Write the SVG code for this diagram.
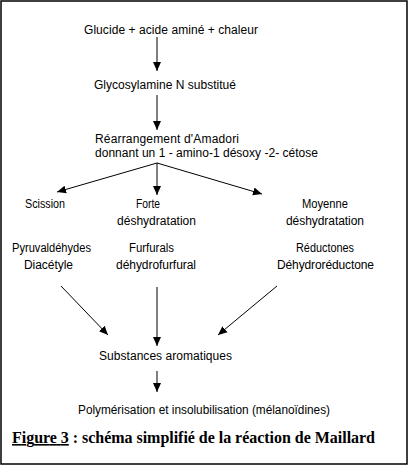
<svg xmlns="http://www.w3.org/2000/svg" width="414" height="470" viewBox="0 0 414 470">
<style>
.t{font-family:"Liberation Sans",Arial,sans-serif;font-size:12px;fill:#000}
.n{font-family:"Liberation Sans",Arial,sans-serif;font-size:12px;fill:#000}
.c{stroke:#000;stroke-width:1;fill:none;marker-end:url(#ah)}
.title{font-family:"Liberation Serif","Times New Roman",serif;font-size:16px;font-weight:bold;fill:#000}
</style>
<defs>
<marker id="ah" markerUnits="userSpaceOnUse" markerWidth="9" markerHeight="9" refX="9" refY="4.5" orient="auto">
<path d="M0,0.5 L9,4.5 L0,8.5 z" fill="#000"/>
</marker>
</defs>
<rect x="1" y="1" width="406" height="463" fill="#fff" stroke="#000" stroke-width="1.5"/>
<g id="connectors">
<line class="c" x1="157" y1="37" x2="157" y2="71"/>
<line class="c" x1="157" y1="95" x2="157" y2="130"/>
<line class="c" x1="157" y1="163" x2="57" y2="192"/>
<line class="c" x1="157" y1="163" x2="157" y2="195"/>
<line class="c" x1="157" y1="163" x2="262" y2="194"/>
<line class="c" x1="61" y1="286" x2="108" y2="335"/>
<line class="c" x1="157" y1="287" x2="157" y2="346"/>
<line class="c" x1="277" y1="286" x2="218" y2="335"/>
<line class="c" x1="157" y1="371" x2="157" y2="392"/>
</g>
<g id="n-glucide"><text class="t" x="84" y="34" textLength="174">Glucide + acide aminé + chaleur</text></g>
<g id="n-glycosylamine"><text class="t" x="94" y="89" textLength="142">Glycosylamine N substitué</text></g>
<g id="n-amadori">
<text class="t" x="95" y="143" textLength="144">Réarrangement d'Amadori</text>
<text class="t" x="95" y="157" textLength="223">donnant un 1 - amino-1 désoxy -2- cétose</text>
</g>
<g id="n-scission">
<text class="n" x="25" y="208" textLength="40" lengthAdjust="spacingAndGlyphs">Scission</text>
<text class="n" x="12" y="252" textLength="79" lengthAdjust="spacingAndGlyphs">Pyruvaldéhydes</text>
<text class="t" x="24" y="269" textLength="49">Diacétyle</text>
</g>
<g id="n-forte">
<text class="n" x="136" y="208" textLength="24" lengthAdjust="spacingAndGlyphs">Forte</text>
<text class="t" x="117" y="225" textLength="79">déshydratation</text>
<text class="n" x="129" y="252" textLength="45" lengthAdjust="spacingAndGlyphs">Furfurals</text>
<text class="t" x="116" y="269" textLength="80">déhydrofurfural</text>
</g>
<g id="n-moyenne">
<text class="n" x="302" y="208" textLength="46" lengthAdjust="spacingAndGlyphs">Moyenne</text>
<text class="t" x="286" y="225" textLength="78">déshydratation</text>
<text class="n" x="296" y="252" textLength="58" lengthAdjust="spacingAndGlyphs">Réductones</text>
<text class="t" x="277" y="269" textLength="97">Déhydroréductone</text>
</g>
<g id="n-aromatiques"><text class="t" x="99" y="360" textLength="133">Substances aromatiques</text></g>
<g id="n-polymerisation"><text class="t" x="78" y="414" textLength="252" lengthAdjust="spacingAndGlyphs">Polymérisation et insolubilisation (mélanoïdines)</text></g>
<g id="caption"><text class="title" x="12" y="443" textLength="363"><tspan text-decoration="underline">Figure 3</tspan> : schéma simplifié de la réaction de Maillard</text></g>
</svg>
